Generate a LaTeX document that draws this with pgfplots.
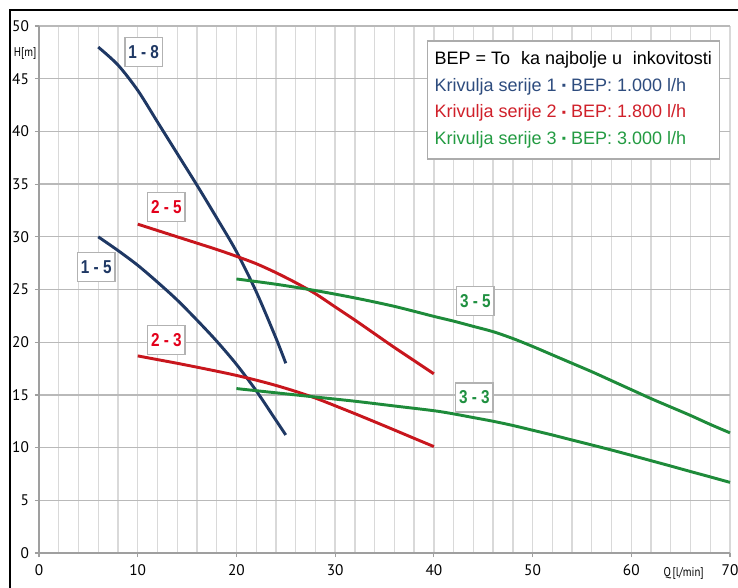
\documentclass[border=0pt]{standalone}
\usepackage{pgfplots}
\pgfplotsset{compat=1.18}
\usepackage{graphicx}
\usepackage{fontspec}
\setmainfont{Liberation Sans}
\newfontfamily\tickfont{PT Sans}
\definecolor{navy}{HTML}{1F3864}
\definecolor{cred}{HTML}{C8161D}
\definecolor{cgreen}{HTML}{1E8B3A}
\definecolor{lred}{HTML}{E3001B}
\definecolor{lgreen}{HTML}{1F9040}
\definecolor{legblue}{HTML}{2E4C7E}
\definecolor{legred}{HTML}{D0202A}
\definecolor{leggreen}{HTML}{239B42}
\newcommand{\lab}[1]{\scalebox{0.82}[1]{\fontsize{14}{14}\selectfont\bfseries #1}}
\tikzset{curvelab/.style={draw=gray!60, line width=0.9pt, fill=white, minimum width=28pt, minimum height=21.75pt, inner sep=1pt}}
\begin{document}
\begin{tikzpicture}
\useasboundingbox (0,0) rectangle (553.5pt,-441pt);
\draw[line width=1.5pt] (7.5pt,-441pt) -- (7.5pt,-7.5pt) -- (553.5pt,-7.5pt);
\begin{axis}[
  at={(29.25pt,-414.75pt)}, anchor=south west,
  scale only axis, width=518.25pt, height=395.25pt,
  xmin=0, xmax=70, ymin=0, ymax=50,
  clip=false,
  axis x line*=bottom, axis y line*=left,
  axis line style={-, draw=gray!75, line width=0.9pt},
  xtick={0,10,...,70}, minor xtick={2,4,...,68},
  ytick={0,5,...,50},
  xmajorgrids, xminorgrids, ymajorgrids,
  x grid style={draw=gray!30, line width=1pt},
  minor x grid style={draw=gray!30, line width=1pt},
  y grid style={draw=gray!55, line width=1pt},
  tick align=outside, major tick length=3pt, minor tick length=0pt,
  tick style={draw=gray!75, line width=0.9pt},
  tick label style={font=\tickfont\fontsize{11.5}{13}\selectfont},
  /pgf/number format/assume math mode=true,
  yticklabel style={xshift=-1pt},
  xticklabel style={yshift=-2pt},
  every axis plot/.append style={line width=2.2pt, smooth},
]
% 1-8
\addplot[navy] coordinates {
(6,48.0) (8,46.3) (10,43.9) (12,40.9) (14,37.9) (16,34.9) (18,31.8) (20,28.6) (22,24.8) (24,20.4) (25,18.0)};
% 1-5
\addplot[navy] coordinates {
(6,30.0) (8,28.7) (10,27.3) (12,25.7) (14,24.0) (16,22.1) (18,20.1) (20,17.9) (22,15.4) (24,12.6) (25,11.2)};
% 2-5
\addplot[cred] coordinates {
(10,31.2) (12,30.6) (14,30.0) (16,29.4) (18,28.8) (20,28.15) (22,27.45) (24,26.6) (26,25.65) (28,24.6) (30,23.35) (32,22.1) (34,20.8) (36,19.5) (38,18.25) (40,17.0)};
% 2-3
\addplot[cred] coordinates {
(10,18.7) (12,18.35) (14,18.0) (16,17.63) (18,17.25) (20,16.85) (22,16.4) (24,15.9) (26,15.33) (28,14.7) (30,13.97) (32,13.22) (34,12.45) (36,11.67) (38,10.88) (40,10.1)};
% 3-5
\addplot[cgreen] coordinates {
(20,26.0) (24,25.5) (28,24.9) (32,24.2) (36,23.4) (40,22.45) (42,22.0) (44,21.5) (46,21.0) (48,20.35) (50,19.6) (52,18.8) (54,18.0) (56,17.2) (58,16.35) (60,15.5) (62,14.65) (64,13.85) (66,13.05) (68,12.2) (70,11.4)};
% 3-3
\addplot[cgreen] coordinates {
(20,15.6) (24,15.2) (28,14.8) (32,14.4) (36,13.95) (40,13.5) (42,13.2) (44,12.85) (46,12.5) (48,12.1) (50,11.65) (52,11.2) (54,10.72) (56,10.25) (58,9.77) (60,9.27) (62,8.76) (64,8.25) (66,7.73) (68,7.22) (70,6.7)};

\node[curvelab, text=navy] at (axis cs:10.6,47.5) {\lab{1 - 8}};
\node[curvelab, text=navy] at (axis cs:5.8,27.1) {\lab{1 - 5}};
\node[curvelab, text=lred] at (axis cs:12.9,32.8) {\lab{2 - 5}};
\node[curvelab, text=lred] at (axis cs:12.9,20.2) {\lab{2 - 3}};
\node[curvelab, text=lgreen] at (axis cs:44.2,23.9) {\lab{3 - 5}};
\node[curvelab, text=lgreen] at (axis cs:44.1,14.75) {\lab{3 - 3}};

\node[draw=gray!65, line width=1.2pt, fill=white, anchor=north east, align=left,
      minimum width=219pt, minimum height=88.5pt, inner sep=0pt,
      font=\fontsize{13.5}{20}\selectfont] at (axis cs:69.0,48.67)
  {BEP = To\hspace{0.6em}ka najbolje u\hspace{0.6em}inkovitosti\\
   \textcolor{legblue}{Krivulja serije 1 {\fontsize{9}{9}\selectfont\raisebox{0.15em}{▪}} BEP: 1.000 l/h}\\
   \textcolor{legred}{Krivulja serije 2 {\fontsize{9}{9}\selectfont\raisebox{0.15em}{▪}} BEP: 1.800 l/h}\\
   \textcolor{leggreen}{Krivulja serije 3 {\fontsize{9}{9}\selectfont\raisebox{0.15em}{▪}} BEP: 3.000 l/h}};

\node[font=\tickfont\fontsize{9.5}{10}\selectfont] at (axis cs:-1.4,47.4) {\scalebox{0.85}[1]{H[m]}};
\node[font=\tickfont\fontsize{9.5}{10}\selectfont] at (axis cs:65.3,-1.9) {\scalebox{0.85}[1]{Q\,[l/min]}};
\end{axis}
\end{tikzpicture}
\end{document}
